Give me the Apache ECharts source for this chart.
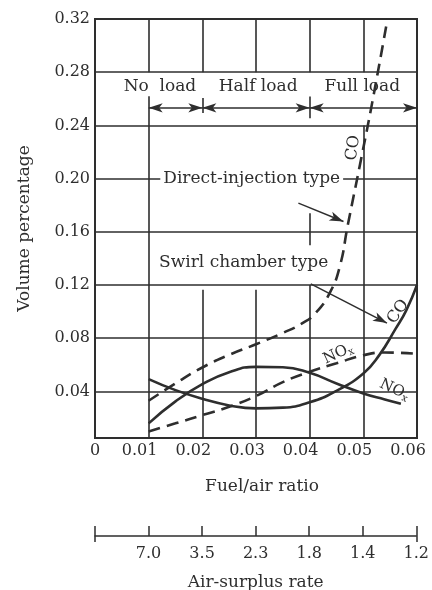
<!DOCTYPE html>
<html><head><meta charset="utf-8">
<script src="https://cdn.jsdelivr.net/npm/echarts@6/dist/echarts.min.js"></script>
<style>html,body{margin:0;padding:0;background:#fff}#c{width:432px;height:590px}</style>
</head><body><div id="c"></div>
<script>
// ---------- data ----------
const fuelTicks = [0, 0.01, 0.02, 0.03, 0.04, 0.05, 0.06];
const fuelTickLabels = ['0', '0.01', '0.02', '0.03', '0.04', '0.05', '0.06'];
const volTicks = [0.04, 0.08, 0.12, 0.16, 0.20, 0.24, 0.28, 0.32];
const volTickLabels = ['0.04', '0.08', '0.12', '0.16', '0.20', '0.24', '0.28', '0.32'];
const airSurplusPos = [0.01, 0.02, 0.03, 0.04, 0.05, 0.06];
const airSurplusLabels = ['7.0', '3.5', '2.3', '1.8', '1.4', '1.2'];

// swirl chamber type (solid)
const swirlCO = [[0.010,0.0493],[0.015,0.0410],[0.020,0.0345],[0.025,0.0295],[0.030,0.0273],[0.035,0.0278],[0.040,0.0318],[0.045,0.0405],[0.050,0.0535],[0.053,0.0675],[0.056,0.0870],[0.058,0.1010],[0.060,0.1200]];
const swirlNOx = [[0.010,0.0160],[0.015,0.0325],[0.020,0.0455],[0.025,0.0545],[0.030,0.0585],[0.035,0.0582],[0.040,0.0540],[0.045,0.0460],[0.050,0.0385],[0.054,0.0340],[0.057,0.0308]];
// direct-injection type (dashed)
const directCO = [[0.010,0.0330],[0.015,0.0460],[0.020,0.0580],[0.025,0.0675],[0.030,0.0755],[0.035,0.0840],[0.0385,0.0910],[0.041,0.0985],[0.0437,0.1138],[0.0456,0.1337],[0.0471,0.1650],[0.0494,0.2110],[0.0516,0.2560],[0.0545,0.3200]];
const directNOx = [[0.010,0.0099],[0.015,0.0160],[0.020,0.0222],[0.025,0.0285],[0.030,0.0365],[0.035,0.0470],[0.040,0.0548],[0.045,0.0612],[0.050,0.0672],[0.054,0.0693],[0.060,0.0683]];

// ---------- chart ----------
const FONT = 'DejaVu Serif';
const INK = '#2e2e2e';
const chart = echarts.init(document.getElementById('c'), null, { renderer: 'canvas' });

function pick(arr, labels) {
  return v => { for (let i = 0; i < arr.length; i++) if (Math.abs(arr[i] - v) < 1e-9) return labels[i]; return ''; };
}
const seg = (x1, y1, x2, y2) => [{ coord: [x1, y1] }, { coord: [x2, y2] }];

const yMin = 0.005, yMax = volTicks[volTicks.length - 1];
const xMin = fuelTicks[0], xMax = fuelTicks[fuelTicks.length - 1];

const gridSegs = [
  seg(0.01, yMin, 0.01, 0.262), seg(0.01, 0.28, 0.01, yMax),
  seg(0.02, yMin, 0.02, 0.1165), seg(0.02, 0.28, 0.02, yMax), seg(0.02, 0.2494, 0.02, 0.2607),
  seg(0.03, yMin, 0.03, 0.1165), seg(0.03, 0.28, 0.03, yMax),
  seg(0.04, yMin, 0.04, 0.12), seg(0.04, 0.150, 0.04, 0.174), seg(0.04, 0.2454, 0.04, 0.2617), seg(0.04, 0.28, 0.04, yMax),
  seg(0.05, yMin, 0.05, 0.24), seg(0.05, 0.28, 0.05, yMax)
].concat(volTicks.slice(0, -1).map(y => seg(xMin, y, xMax, y)));

const loadArrows = [seg(0.01, 0.2532, 0.02, 0.2532), seg(0.02, 0.2532, 0.04, 0.2532), seg(0.04, 0.2532, 0.06, 0.2532)];
const pointerArrows = [seg(0.0379, 0.1816, 0.0463, 0.1678), seg(0.0402, 0.1209, 0.0544, 0.0914)];

const txtBase = { color: INK, fontFamily: FONT, fontSize: 17 };
const curve = (name, data, dashed) => ({
  name: name, type: 'line', data: data, smooth: 0.5, showSymbol: false, z: 3,
  lineStyle: { color: INK, width: 2.6, type: dashed ? [12, 7] : 'solid' }
});

const option = {
  animation: false,
  backgroundColor: '#fff',
  grid: [
    { left: 95, right: 15, top: 19, bottom: 152, show: true, borderColor: INK, borderWidth: 2, backgroundColor: 'transparent' },
    { left: 95, right: 15, top: 536, height: 0 }
  ],
  xAxis: [
    {
      type: 'value', gridIndex: 0, min: xMin, max: xMax,
      axisLine: { show: false }, axisTick: { show: false }, splitLine: { show: false },
      axisLabel: {
        customValues: fuelTicks, margin: 5,
        formatter: v => { const s = pick(fuelTicks, fuelTickLabels)(v); return v === 0 ? '{z|' + s + '}' : '{n|' + s + '}'; },
        rich: { z: Object.assign({}, txtBase, { fontSize: 16 }), n: Object.assign({}, txtBase, { fontSize: 16, padding: [0, 18, 0, 0] }) }
      },
      name: 'Fuel/air ratio', nameLocation: 'middle', nameGap: 40,
      nameTextStyle: Object.assign({}, txtBase, { padding: [0, 0, 0, 12] })
    },
    {
      type: 'value', gridIndex: 1, min: xMin, max: xMax, position: 'bottom',
      axisLine: { show: true, lineStyle: { color: INK, width: 1.5 } },
      axisTick: { show: true, inside: true, length: 10, customValues: [xMin].concat(airSurplusPos), lineStyle: { color: INK, width: 1.5 } },
      splitLine: { show: false },
      axisLabel: Object.assign({ customValues: airSurplusPos, margin: 10, formatter: pick(airSurplusPos, airSurplusLabels) }, txtBase, { fontSize: 16 }),
      name: 'Air-surplus rate', nameLocation: 'middle', nameGap: 38,
      nameTextStyle: Object.assign({}, txtBase)
    },
    {
      type: 'value', gridIndex: 1, min: xMin, max: xMax, position: 'top',
      axisLine: { show: false },
      axisTick: { show: true, inside: true, length: 6, customValues: [xMin, xMax], lineStyle: { color: INK, width: 1.5 } },
      axisLabel: { show: false }, splitLine: { show: false }
    }
  ],
  yAxis: [
    {
      type: 'value', gridIndex: 0, min: yMin, max: yMax,
      axisLine: { show: false }, axisTick: { show: false }, splitLine: { show: false },
      axisLabel: Object.assign({ customValues: volTicks, margin: 5, formatter: pick(volTicks, volTickLabels) }, txtBase, { fontSize: 16 }),
      name: 'Volume percentage', nameLocation: 'middle', nameGap: 62,
      nameTextStyle: Object.assign({}, txtBase)
    },
    { type: 'value', gridIndex: 1, min: 0, max: 1, show: false }
  ],
  series: [
    {
      type: 'line', data: [], z: 1, silent: true,
      markLine: { silent: true, symbol: ['none', 'none'], label: { show: false }, emphasis: { disabled: true },
        lineStyle: { color: INK, width: 1.6, type: 'solid' }, data: gridSegs }
    },
    {
      type: 'line', data: [], z: 4, silent: true,
      markLine: { silent: true, symbol: ['arrow', 'arrow'], symbolSize: [7, 14], label: { show: false }, emphasis: { disabled: true },
        lineStyle: { color: INK, width: 1.5, type: 'solid' }, itemStyle: { color: INK }, data: loadArrows }
    },
    {
      type: 'line', data: [], z: 4, silent: true,
      markLine: { silent: true, symbol: ['none', 'arrow'], symbolSize: [7, 14], label: { show: false }, emphasis: { disabled: true },
        lineStyle: { color: INK, width: 1.5, type: 'solid' }, itemStyle: { color: INK }, data: pointerArrows }
    },
    curve('Swirl CO', swirlCO, false),
    curve('Swirl NOx', swirlNOx, false),
    curve('Direct CO', directCO, true),
    curve('Direct NOx', directNOx, true)
  ]
};
chart.setOption(option);

// ---------- annotations placed through the chart's scales ----------
const P = (x, y) => chart.convertToPixel({ gridIndex: 0 }, [x, y]);
function txt(x, y, text, o) {
  o = o || {};
  const p = P(x, y);
  return {
    type: 'text', x: p[0], y: p[1], rotation: (o.rot || 0) * Math.PI / 180, z: 100,
    style: {
      text: text, fill: INK, fontFamily: FONT, fontSize: o.size || 17, align: 'center', verticalAlign: 'middle',
      backgroundColor: o.bg, padding: o.pad, rich: o.rich
    }
  };
}
const noxRich = { a: { fontFamily: FONT, fontSize: 15, fill: INK }, b: { fontFamily: FONT, fontSize: 10, fill: INK, padding: [8, 0, 0, 0] } };
chart.setOption({
  graphic: [
    txt(0.0121, 0.269, 'No  load'),
    txt(0.0304, 0.269, 'Half load'),
    txt(0.0498, 0.269, 'Full load'),
    txt(0.0292, 0.200, 'Direct-injection type', { bg: '#fff', pad: [1, 3] }),
    txt(0.0277, 0.1367, 'Swirl chamber type'),
    txt(0.0481, 0.2231, 'CO', { rot: 82, size: 16 }),
    txt(0.0565, 0.1000, 'CO', { rot: 55, size: 16 }),
    txt(0.0453, 0.0684, '{a|NO}{b|x}', { rot: 25, rich: noxRich }),
    txt(0.0558, 0.0413, '{a|NO}{b|x}', { rot: -25, rich: noxRich })
  ]
});
</script>
</body></html>
